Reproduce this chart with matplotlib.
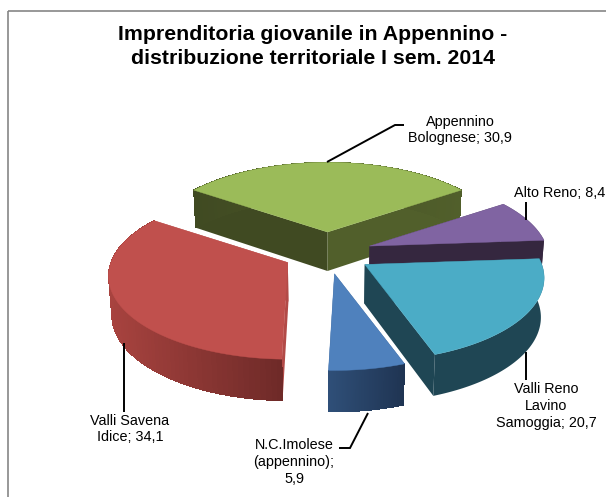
import numpy as np
import matplotlib
matplotlib.use("Agg")
import matplotlib.pyplot as plt
from matplotlib.colors import to_rgb
from matplotlib.patches import Polygon, Rectangle

plt.rcParams["font.family"] = ["Liberation Sans", "DejaVu Sans"]

# slices, clockwise from the green one
names = ["Appennino\nBolognese", "Alto Reno", "Valli Reno\nLavino\nSamoggia",
         "N.C.Imolese\n(appennino);\n", "Valli Savena\nIdice"]
values = [30.9, 8.4, 20.7, 5.9, 34.1]
tops = ["#9bbb59", "#8064a2", "#4bacc6", "#4f81bd", "#c0504d"]
rim_left = ["#404a22", "#35273f", "#1f4654", "#2f4f78", "#a8433f"]
rim_right = ["#515f2b", "#35273f", "#1f4654", "#1f3452", "#6e2a28"]
face_left = ["#404a22", "#35273f", "#1f4654", "#2f4f78", "#b24a47"]
face_right = ["#515f2b", "#35273f", "#1f4654", "#2f4f78", "#b24a47"]
label_xy = [(460, 130), (560, 193), (546, 406), (294, 462), (130, 429)]
leaders = [
    ([327, 395, 404], [162, 125, 125]),
    ([526, 526], [202, 220]),
    ([526, 526], [352, 380]),
    ([368, 350, 339], [413, 448, 448]),
    ([124, 124], [343, 412]),
]
draw_order = [0, 1, 4, 2, 3]

# pie geometry in pixels
cx, cy = 327.5, 253
explode_x, explode_y = 44.5, 21
radius_x, radius_y, persp = 177, 81, 0.162
depth = 39

fig = plt.figure(figsize=(6.06, 4.97), dpi=100)
ax = fig.add_axes([0, 0, 1, 1])
ax.set_xlim(0, 606)
ax.set_ylim(497, 0)
ax.axis("off")

ax.add_patch(Rectangle((7.5, 10.5), 700, 600, fill=False, ec="#868686", lw=1.2))


def rim(theta):
    u, v = np.sin(theta), -np.cos(theta)
    w = 1 - persp * v
    return radius_x * u / w, radius_y * v / w


def lower(x, y, v):
    return cx + (x - cx) * 0.985, y + depth + 2.5 * v


edges = np.radians(np.cumsum([0] + values) * 3.6 - values[0] * 1.8)

for i in draw_order:
    a, b = edges[i], edges[i + 1]
    mid = (a + b) / 2
    ax0 = cx + explode_x * np.sin(mid)
    ay0 = cy - explode_y * np.cos(mid)
    th = np.linspace(a, b, 80)
    rx, ry = rim(th)
    x = ax0 + rx
    y = ay0 + ry
    vs = -np.cos(th)
    bx, by = lower(x, y, vs)
    abx, aby = lower(ax0, ay0, 0)

    # the two cut faces
    for j in (0, -1):
        col = face_left[i] if x[j] < ax0 else face_right[i]
        ax.add_patch(Polygon([(ax0, ay0), (x[j], y[j]), (bx[j], by[j]), (abx, aby)], fc=col, ec="none"))

    # outer wall, shaded from left to right
    c0, c1 = np.array(to_rgb(rim_left[i])), np.array(to_rgb(rim_right[i]))
    t = (x - x.min()) / (x.max() - x.min())
    wall = np.column_stack([np.r_[x, bx[::-1]], np.r_[y, by[::-1]]])
    ax.add_patch(Polygon(wall, fc=(c0 + c1) / 2, ec="none"))
    if rim_left[i] != rim_right[i]:
        for k in range(len(th) - 1):
            col = c0 + (c1 - c0) * (t[k] + t[k + 1]) / 2
            ax.add_patch(Polygon([(x[k], y[k]), (x[k + 1], y[k + 1]), (bx[k + 1], by[k + 1]), (bx[k], by[k])],
                                 fc=col, ec="none", antialiased=False))

    # top
    ax.add_patch(Polygon(np.column_stack([np.r_[ax0, x], np.r_[ay0, y]]), fc=tops[i], ec=tops[i], lw=0.3))

for (lx, ly) in leaders:
    ax.plot(lx, ly, color="black", lw=1.4, solid_capstyle="butt", solid_joinstyle="miter")

for name, val, (tx, ty) in zip(names, values, label_xy):
    val_txt = f"{val}".replace(".", ",")
    if name.endswith("\n"):
        txt = name + val_txt
    else:
        txt = f"{name}; {val_txt}"
    ax.text(tx, ty, txt, ha="center", va="center", fontsize=10.4, linespacing=1.25, color="black")

ax.text(313, 46.5, "Imprenditoria giovanile in Appennino -\ndistribuzione territoriale I sem. 2014",
        ha="center", va="center", fontsize=15.3, fontweight="bold", linespacing=1.36)

fig.savefig("out.png", dpi=100)
